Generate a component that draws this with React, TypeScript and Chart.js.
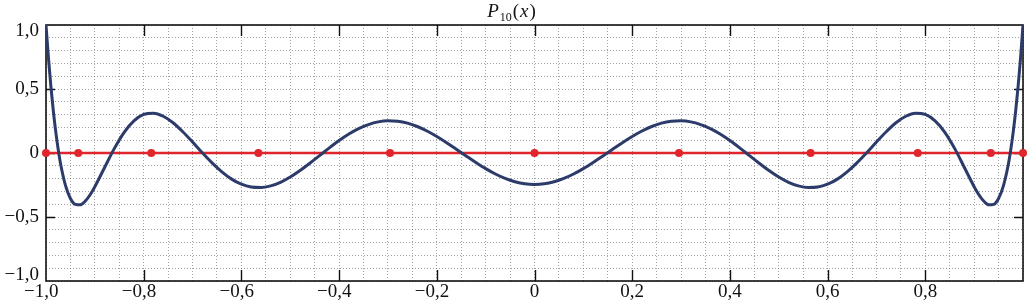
import React, { useEffect, useRef } from "react";
import { Chart, registerables } from "chart.js";

Chart.register(...registerables);

// P10(x) sampled values
const curveX = [
  -1, -0.995, -0.99, -0.985, -0.98, -0.975, -0.97, -0.96, -0.95, -0.94, -0.93, -0.92, -0.91, -0.9,
  -0.88, -0.86, -0.84, -0.82, -0.8, -0.78, -0.76, -0.74, -0.72, -0.7, -0.68, -0.66, -0.64, -0.62,
  -0.6, -0.58, -0.56, -0.54, -0.52, -0.5, -0.48, -0.46, -0.44, -0.42, -0.4, -0.38, -0.36, -0.34,
  -0.32, -0.3, -0.28, -0.26, -0.24, -0.22, -0.2, -0.18, -0.16, -0.14, -0.12, -0.1, -0.08, -0.06,
  -0.04, -0.02, 0, 0.02, 0.04, 0.06, 0.08, 0.1, 0.12, 0.14, 0.16, 0.18, 0.2, 0.22, 0.24, 0.26,
  0.28, 0.3, 0.32, 0.34, 0.36, 0.38, 0.4, 0.42, 0.44, 0.46, 0.48, 0.5, 0.52, 0.54, 0.56, 0.58,
  0.6, 0.62, 0.64, 0.66, 0.68, 0.7, 0.72, 0.74, 0.76, 0.78, 0.8, 0.82, 0.84, 0.86, 0.88, 0.9,
  0.91, 0.92, 0.93, 0.94, 0.95, 0.96, 0.97, 0.975, 0.98, 0.985, 0.99, 0.995, 1,
];
const curveY = [
  1.0, 0.743, 0.52, 0.328, 0.165, 0.027, -0.088, -0.255, -0.355, -0.401, -0.405, -0.377, -0.328, -0.263,
  -0.113, 0.036, 0.162, 0.251, 0.301, 0.311, 0.287, 0.236, 0.166, 0.086, 0.002, -0.077, -0.147, -0.204,
  -0.244, -0.266, -0.27, -0.257, -0.229, -0.188, -0.137, -0.08, -0.02, 0.04, 0.097, 0.148, 0.19, 0.222,
  0.243, 0.251, 0.248, 0.233, 0.207, 0.172, 0.129, 0.081, 0.029, -0.023, -0.074, -0.122, -0.164, -0.199,
  -0.225, -0.241, -0.246, -0.241, -0.225, -0.199, -0.164, -0.122, -0.074, -0.023, 0.029, 0.081, 0.129, 0.172, 0.207, 0.233,
  0.248, 0.251, 0.243, 0.222, 0.19, 0.148, 0.097, 0.04, -0.02, -0.08, -0.137, -0.188, -0.229, -0.257, -0.27, -0.266,
  -0.244, -0.204, -0.147, -0.077, 0.002, 0.086, 0.166, 0.236, 0.287, 0.311, 0.301, 0.251, 0.162, 0.036, -0.113, -0.263,
  -0.328, -0.377, -0.405, -0.401, -0.355, -0.255, -0.088, 0.027, 0.165, 0.328, 0.52, 0.743, 1.0,
];

// nodes on the axis (red points)
const nodeX = [-1, -0.934, -0.7845, -0.5652, -0.2958, 0, 0.2958, 0.5652, 0.7845, 0.934, 1];
const nodeY = [0, 0, 0, 0, 0, 0, 0, 0, 0, 0, 0];

const xTickValues = [-1, -0.8, -0.6, -0.4, -0.2, 0, 0.2, 0.4, 0.6, 0.8];
const xTickLabels = ["−1,0", "−0,8", "−0,6", "−0,4", "−0,2", "0", "0,2", "0,4", "0,6", "0,8"];
const yTickValues = [1, 0.5, 0, -0.5, -1];
const yTickLabels = ["1,0", "0,5", "0", "−0,5", "−1,0"];

const titleMain = "P";
const titleSub = "10";
const titleArg = "x";

const FONT = '"Liberation Serif", "Times New Roman", serif';
const BLUE = "#2c3b69";
const RED = "#e0262c";

const framePlugin = {
  id: "frameTicks",
  beforeDatasetsDraw(chart: any) {
    const { ctx, chartArea: a, scales } = chart;
    const xs = scales.x;
    const ys = scales.y;
    ctx.save();
    ctx.strokeStyle = "#111";
    ctx.lineWidth = 1.4;
    ctx.beginPath();
    for (const v of xTickValues) {
      if (v <= -1 || v >= 1) continue;
      const px = Math.round(xs.getPixelForValue(v)) + 0.5;
      ctx.moveTo(px, a.top);
      ctx.lineTo(px, a.top + 11);
      ctx.moveTo(px, a.bottom);
      ctx.lineTo(px, a.bottom - 11);
    }
    for (const v of yTickValues) {
      if (v <= -1 || v >= 1) continue;
      const py = Math.round(ys.getPixelForValue(v)) + 0.5;
      ctx.moveTo(a.left, py);
      ctx.lineTo(a.left + 9, py);
      ctx.moveTo(a.right, py);
      ctx.lineTo(a.right - 9, py);
    }
    ctx.stroke();
    ctx.lineWidth = 1.6;
    ctx.strokeRect(a.left, a.top, a.right - a.left, a.bottom - a.top);
    ctx.restore();
  },
};

const titlePlugin = {
  id: "mathTitle",
  afterDraw(chart: any) {
    const ctx = chart.ctx;
    const parts = [
      { t: titleMain, f: `italic 19px ${FONT}`, dy: 0, gap: 0 },
      { t: titleSub, f: `12px ${FONT}`, dy: 4, gap: 1 },
      { t: "(", f: `19px ${FONT}`, dy: 0, gap: 1 },
      { t: titleArg, f: `italic 19px ${FONT}`, dy: 0, gap: 1 },
      { t: ")", f: `19px ${FONT}`, dy: 0, gap: 1 },
    ];
    ctx.save();
    let total = 0;
    const widths: number[] = [];
    for (const p of parts) {
      ctx.font = p.f;
      const w = ctx.measureText(p.t).width + p.gap;
      widths.push(w);
      total += w;
    }
    let x = chart.width / 2 - 2 - total / 2;
    const base = 17;
    ctx.fillStyle = "#111";
    ctx.textBaseline = "alphabetic";
    ctx.textAlign = "left";
    parts.forEach((p, i) => {
      ctx.font = p.f;
      ctx.fillText(p.t, x + p.gap, base + p.dy);
      x += widths[i];
    });
    ctx.restore();
  },
};

function xLabel(v: number): string {
  const k = Math.round(v * 100);
  const i = xTickValues.findIndex((t) => Math.round(t * 100) === k);
  if (i < 0) return "";
  const s = xTickLabels[i];
  return xTickValues[i] < 0 ? s + "\u2002" : s;
}

function yLabel(v: number): string | string[] {
  const k = Math.round(v * 100);
  const i = yTickValues.findIndex((t) => Math.round(t * 100) === k);
  if (i < 0) return "";
  const s = yTickLabels[i];
  if (yTickValues[i] >= 1) return ["", s];
  if (yTickValues[i] <= -1) return [s, ""];
  return s;
}

export default function App() {
  const ref = useRef<HTMLCanvasElement>(null);
  useEffect(() => {
    document.body.style.margin = "0";
    const canvas = ref.current!;
    const gridColor = "rgba(70,70,70,0.5)";
    const chart = new Chart(canvas, {
      type: "line",
      data: {
        datasets: [
          {
            label: "P10",
            data: curveX.map((x, i) => ({ x, y: curveY[i] })),
            borderColor: BLUE,
            borderWidth: 3,
            pointRadius: 0,
            cubicInterpolationMode: "monotone",
            fill: false,
          },
          {
            label: "nodes",
            data: nodeX.map((x, i) => ({ x, y: nodeY[i] })),
            borderColor: RED,
            backgroundColor: RED,
            borderWidth: 2.5,
            pointRadius: 4,
            pointBorderWidth: 0,
            pointBackgroundColor: RED,
            tension: 0,
            clip: false,
            fill: false,
          },
        ],
      } as any,
      options: {
        animation: false,
        responsive: false,
        devicePixelRatio: 1,
        layout: { padding: { left: 0, right: 4, top: 25, bottom: 0 } },
        plugins: { legend: { display: false }, tooltip: { enabled: false }, title: { display: false } },
        scales: {
          x: {
            type: "linear",
            min: -1,
            max: 1,
            afterFit: (s: any) => {
              s.height = 25;
            },
            grid: { color: gridColor, lineWidth: 1, drawTicks: false },
            border: { display: false, dash: [1, 2] },
            ticks: {
              stepSize: 0.05,
              autoSkip: false,
              maxRotation: 0,
              minRotation: 0,
              padding: 0,
              color: "#111",
              font: { family: FONT, size: 19 },
              callback: (v: any) => xLabel(Number(v)),
            },
          },
          y: {
            type: "linear",
            min: -1,
            max: 1,
            afterFit: (s: any) => {
              s.width = 46;
            },
            grid: { color: gridColor, lineWidth: 1, drawTicks: false },
            border: { display: false, dash: [1, 2] },
            ticks: {
              stepSize: 0.1,
              autoSkip: false,
              padding: 7,
              color: "#111",
              font: { family: FONT, size: 19, lineHeight: 0.6 },
              callback: (v: any) => yLabel(Number(v)),
            },
          },
        },
      } as any,
      plugins: [framePlugin, titlePlugin],
    });
    return () => chart.destroy();
  }, []);
  return (
    <div style={{ width: 1027, height: 306 }}>
      <canvas ref={ref} width={1027} height={306} style={{ display: "block", width: 1027, height: 306 }} />
    </div>
  );
}
